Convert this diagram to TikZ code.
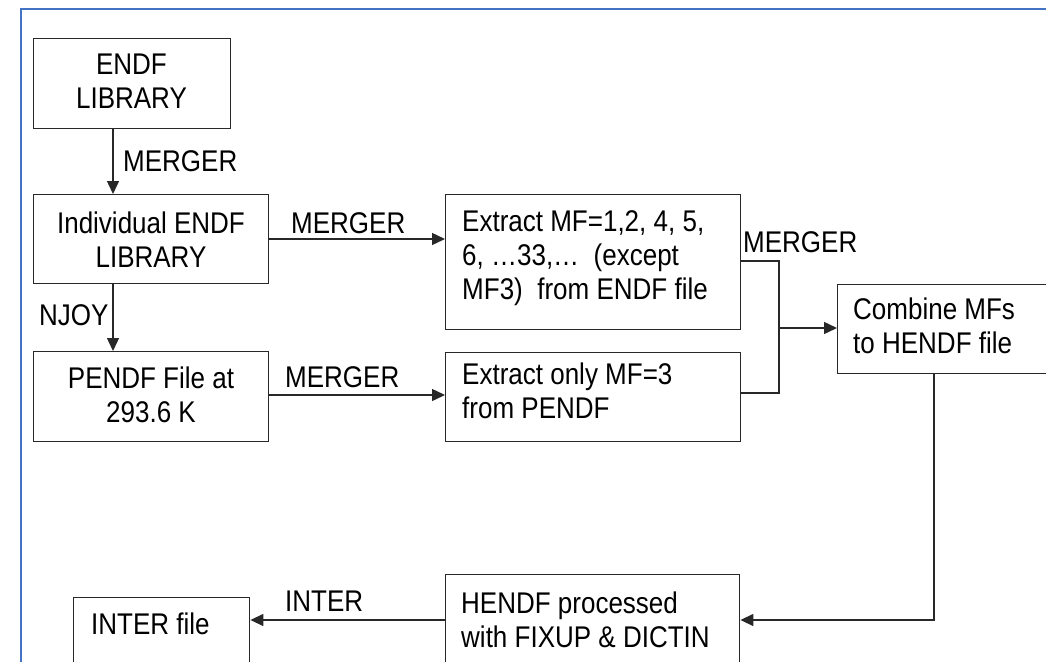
\documentclass[tikz,border=0pt]{standalone}
\usepackage{fontspec}
\setmainfont{Liberation Sans}
\usetikzlibrary{arrows.meta}
\definecolor{linec}{RGB}{40,40,40}
\definecolor{framec}{RGB}{68,114,196}
\tikzset{
  box/.style={draw=linec, line width=1.4pt, inner sep=0pt, anchor=north west},
  txt/.style={inner sep=0pt, font=\fontsize{26}{29.6}\selectfont, text=black, yscale=1.15, transform shape},
  lbl/.style={inner sep=0pt, font=\fontsize{26}{29.6}\selectfont, text=black, anchor=base west, yscale=1.15, transform shape},
  arr/.style={draw=linec, line width=1.4pt, -{Triangle[length=13pt,width=12pt]}},
  ln/.style={draw=linec, line width=1.4pt},
}
\begin{document}
\begin{tikzpicture}[x=1pt,y=-1pt]
\useasboundingbox (0,0) rectangle (1046,661);
\draw[framec, line width=2.5pt] (21,670) -- (21,9) -- (1060,9);
% boxes
\node[box, minimum width=197pt, minimum height=90pt] (endf) at (33,38) {};
\node[box, minimum width=235pt, minimum height=89pt] (indiv) at (33,194) {};
\node[box, minimum width=235pt, minimum height=90pt] (pendf) at (33,351) {};
\node[box, minimum width=295pt, minimum height=135pt] (ex1) at (445,194) {};
\node[box, minimum width=295pt, minimum height=89pt] (ex2) at (445,352) {};
\node[box, minimum width=230pt, minimum height=89pt] (comb) at (837,284) {};
\node[box, minimum width=294pt, minimum height=100pt] (hendf) at (445,574) {};
\node[box, minimum width=176pt, minimum height=80pt] (inter) at (73,597) {};
% box texts
\node[txt, align=center, anchor=north] (t1) at (131.5,53.6) {ENDF\\LIBRARY};
\node[txt, align=center, anchor=north] (t2) at (151,211.6) {Individual ENDF\\LIBRARY};
\node[txt, align=center, anchor=north] (t3) at (151,366.6) {PENDF File at\\293.6 K};
\node[txt, align=left, anchor=north west] (t4) at (462,210.6) {Extract MF=1,2, 4, 5,\\6, …33,…\ \ (except\\MF3)\ \ from ENDF file};
\node[txt, align=left, anchor=north west] (t5) at (462,362.6) {Extract only MF=3\\from PENDF};
\node[txt, align=left, anchor=north west] (t6) at (853,297.6) {Combine MFs\\to HENDF file};
\node[txt, align=left, anchor=north west] (t7) at (461,591.6) {HENDF processed\\with FIXUP \& DICTIN};
\node[txt, align=left, anchor=north west] (t8) at (91,612.6) {INTER file};
% helper coordinates
\coordinate (vx) at (113,0);
\coordinate (h1) at (0,239);
\coordinate (h2) at (0,395);
\coordinate (bx) at (779,0);
\coordinate (b1) at (0,261);
\coordinate (b2) at (0,393);
\coordinate (bm) at (0,328);
\coordinate (dx) at (934,0);
\coordinate (hy) at (0,620);
% connectors
\draw[arr] (endf.south -| vx) -- (indiv.north -| vx);
\draw[arr] (indiv.south -| vx) -- (pendf.north -| vx);
\draw[arr] (indiv.east |- h1) -- (ex1.west |- h1);
\draw[arr] (pendf.east |- h2) -- (ex2.west |- h2);
\draw[ln] (ex1.east |- b1) -| (bx |- b2) -- (ex2.east |- b2);
\draw[arr] (bx |- bm) -- (comb.west |- bm);
\draw[arr] (comb.south -| dx) |- (hendf.east |- hy);
\draw[arr] (hendf.west |- hy) -- (inter.east |- hy);
% labels
\node[lbl] (l1) at (123,171) {MERGER};
\node[lbl] (l2) at (291,233) {MERGER};
\node[lbl] (l3) at (39,325) {NJOY};
\node[lbl] (l4) at (285,387) {MERGER};
\node[lbl] (l5) at (743,252) {MERGER};
\node[lbl] (l6) at (285,611) {INTER};
\end{tikzpicture}
\end{document}
